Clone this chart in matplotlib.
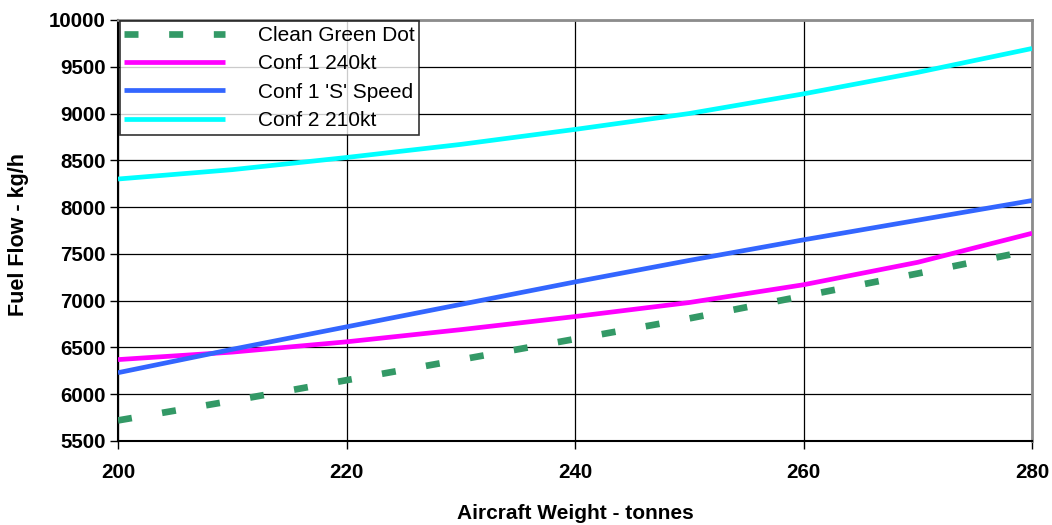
import matplotlib
matplotlib.use("Agg")
import matplotlib.pyplot as plt

weights = [200, 210, 220, 230, 240, 250, 260, 270, 280]
clean_green_dot = [5720, 5930, 6150, 6370, 6590, 6810, 7050, 7290, 7540]
conf1_240kt = [6370, 6450, 6560, 6690, 6830, 6980, 7170, 7410, 7720]
conf1_s_speed = [6230, 6480, 6720, 6960, 7200, 7430, 7650, 7860, 8070]
conf2_210kt = [8300, 8400, 8530, 8670, 8830, 9000, 9210, 9440, 9695]

series_labels = ["Clean Green Dot", "Conf 1 240kt", "Conf 1 'S' Speed", "Conf 2 210kt"]
x_ticks = [200, 220, 240, 260, 280]
y_ticks = list(range(5500, 10001, 500))

plt.rcParams['font.family'] = ['Liberation Sans', 'DejaVu Sans']

fig = plt.figure(figsize=(10.52, 5.25), dpi=100)
ax = fig.add_axes([0.1122, 0.16, 0.8688, 0.802])

ax.plot(weights, clean_green_dot, color='#339966', lw=4.8, dashes=(2.1, 4.6),
        dash_capstyle='butt', label=series_labels[0], zorder=3)
ax.plot(weights, conf1_240kt, color='#FF00FF', lw=3.4, label=series_labels[1], zorder=3,
        solid_capstyle='butt')
ax.plot(weights, conf1_s_speed, color='#3366FF', lw=3.4, label=series_labels[2], zorder=3,
        solid_capstyle='butt')
ax.plot(weights, conf2_210kt, color='#00FFFF', lw=3.4, label=series_labels[3], zorder=3,
        solid_capstyle='butt')

ax.set_xlim(200, 280)
ax.set_ylim(5500, 10000)
ax.set_xticks(x_ticks)
ax.set_yticks(y_ticks)
ax.grid(True, color='black', lw=0.9, zorder=1)
ax.set_axisbelow(True)

for lab in ax.get_xticklabels() + ax.get_yticklabels():
    lab.set_fontweight('bold')
ax.tick_params(axis='both', direction='out', length=6, width=1, labelsize=14.8)
ax.tick_params(axis='x', pad=10)
ax.tick_params(axis='y', pad=3)

ax.spines['left'].set_linewidth(1.5)
ax.spines['bottom'].set_linewidth(1.5)
ax.spines['top'].set_color('#8c8c8c')
ax.spines['right'].set_color('#8c8c8c')
ax.spines['top'].set_linewidth(2)
ax.spines['right'].set_linewidth(2)

ax.set_xlabel('Aircraft Weight - tonnes', fontsize=15, fontweight='bold')
ax.xaxis.set_label_coords(0.5, -0.150)
ax.set_ylabel('Fuel Flow - kg/h', fontsize=15.5, fontweight='bold')
ax.yaxis.set_label_coords(-0.0975, 0.49)

leg = ax.legend(loc='upper left', bbox_to_anchor=(0.002, 0.997), fontsize=15,
                frameon=True, fancybox=False, handlelength=4.85, handletextpad=1.55,
                borderpad=0.22, labelspacing=0.45, borderaxespad=0.0)
leg.get_frame().set_edgecolor('black')
leg.get_frame().set_linewidth(1.2)

fig.savefig('out.png', dpi=100)
